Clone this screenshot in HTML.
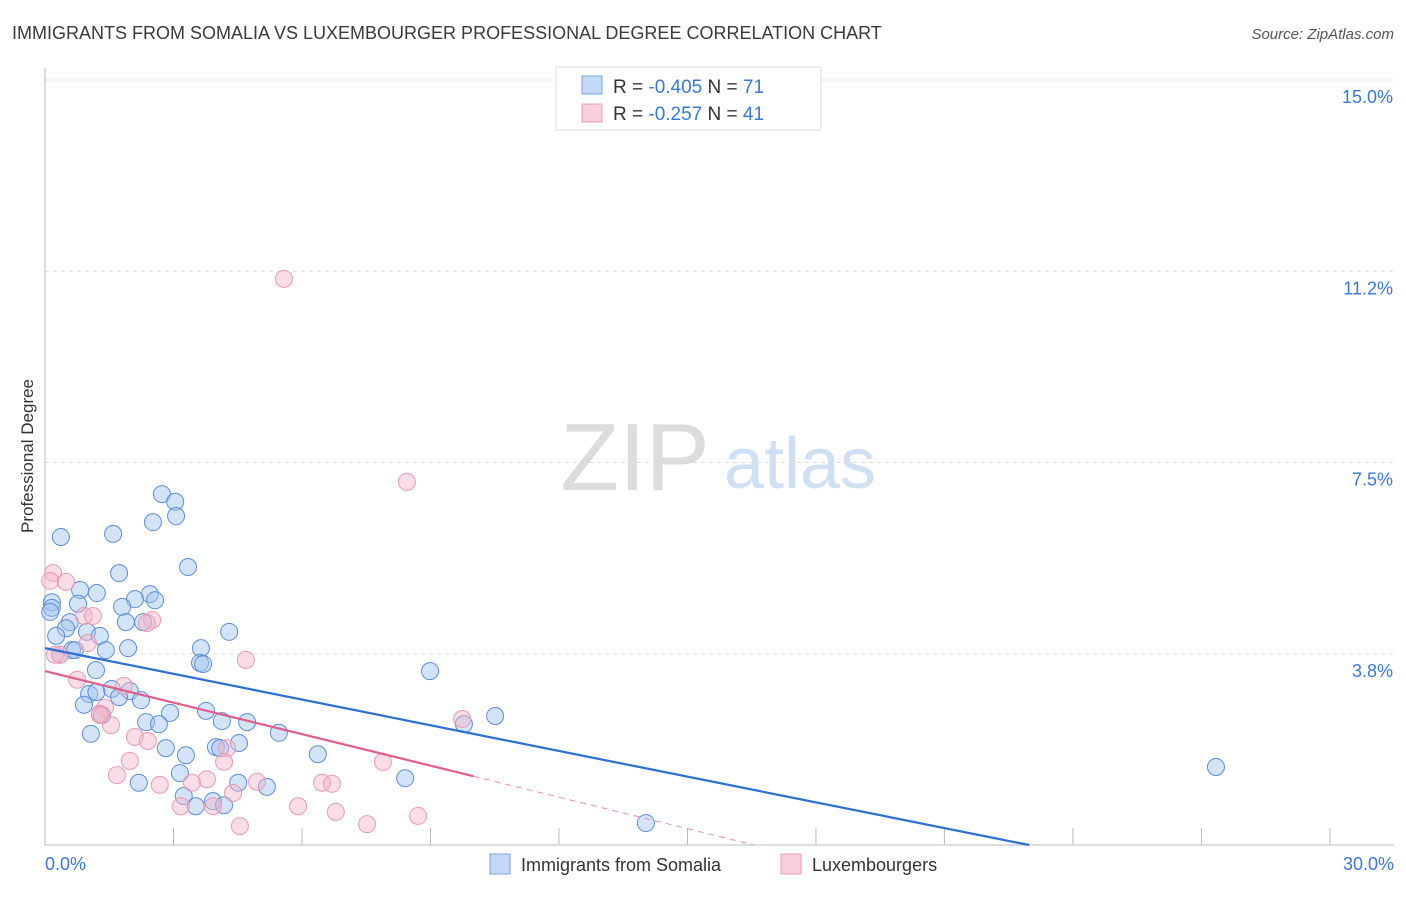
<!DOCTYPE html>
<html><head><meta charset="utf-8"><style>
body{margin:0;background:#fff;font-family:"Liberation Sans",sans-serif;}
svg text{font-family:"Liberation Sans",sans-serif;}
</style></head><body>
<svg id="chart" width="1406" height="892" viewBox="0 0 1406 892" xmlns="http://www.w3.org/2000/svg">
<text x="12" y="39" font-size="18" fill="#3a3a3a">IMMIGRANTS FROM SOMALIA VS LUXEMBOURGER PROFESSIONAL DEGREE CORRELATION CHART</text>
<text x="1394" y="39" font-size="15" fill="#555" font-style="italic" text-anchor="end">Source: ZipAtlas.com</text>
<g>
<text x="635" y="490" font-size="96" fill="#dcdcdc" text-anchor="middle" font-family="Liberation Serif">ZIP</text>
<text x="800" y="488" font-size="72" fill="#cfe0f5" text-anchor="middle">atlas</text>
</g>
<g id="grid"></g>
<g id="axes"></g>
<text transform="translate(33,456) rotate(-90)" font-size="17" fill="#333" text-anchor="middle">Professional Degree</text>
<g id="marks"></g>
<g>
<rect x="556" y="67" width="265" height="63" fill="#fff" stroke="#ddd"/>
<rect x="582" y="76" width="20" height="18" fill="#c4d9f5" stroke="#7aa6e0"/>
<rect x="582" y="104" width="20" height="18" fill="#f9cfdc" stroke="#ec9bb4"/>
<text x="613" y="93" font-size="19" fill="#333">R = <tspan fill="#3a78d8">-0.405</tspan>   N = <tspan fill="#3a78d8">71</tspan></text>
<text x="613" y="120" font-size="19" fill="#333">R =  <tspan fill="#3a78d8">-0.257</tspan>   N = <tspan fill="#3a78d8">41</tspan></text>
</g>
<g>
<rect x="490" y="854" width="20" height="20" fill="#c4d9f5" stroke="#7aa6e0"/>
<text x="521" y="871" font-size="18" fill="#333">Immigrants from Somalia</text>
<rect x="781" y="854" width="20" height="20" fill="#f9cfdc" stroke="#ec9bb4"/>
<text x="812" y="871" font-size="18" fill="#333">Luxembourgers</text>
</g>
</svg>
<script>
const yTicks=[3.75,7.5,11.25,15];
const yTickLabels=["3.8%","7.5%","11.2%","15.0%"];
const xTickVals=[0,3,6,9,12,15,18,21,24,27,30];
const xEndLabels=["0.0%","30.0%"];
const somaliaX=[0.37,1.59,2.73,3.04,3.06,2.52,3.34,1.73,0.82,1.21,2.45,2.57,2.10,1.80,0.77,0.16,0.16,0.12,0.58,1.89,2.29,0.49,0.26,0.98,1.28,0.63,0.70,0.35,1.42,1.94,4.30,3.64,3.62,3.69,1.19,8.99,1.56,1.98,1.03,1.73,2.24,0.91,1.33,2.92,3.76,4.13,4.72,2.36,2.66,1.07,5.46,4.53,3.99,4.09,2.82,6.37,3.29,3.15,2.19,4.51,5.18,8.41,3.24,3.52,3.92,4.18,9.78,10.51,27.34,14.03,1.2];
const somaliaY=[6.04,6.10,6.88,6.73,6.45,6.33,5.45,5.33,5.00,4.94,4.92,4.80,4.82,4.67,4.73,4.76,4.65,4.57,4.37,4.37,4.37,4.25,4.10,4.18,4.10,3.82,3.82,3.73,3.82,3.86,4.18,3.86,3.57,3.55,3.43,3.41,3.06,3.02,2.96,2.90,2.84,2.75,2.55,2.59,2.63,2.43,2.41,2.41,2.37,2.18,2.20,2.00,1.92,1.90,1.90,1.78,1.76,1.41,1.22,1.22,1.14,1.31,0.96,0.76,0.86,0.78,2.37,2.53,1.53,0.43,3.0];
const luxX=[5.58,8.45,0.19,0.12,0.49,0.91,1.12,2.50,2.38,1.00,0.35,4.69,0.75,1.84,1.40,1.28,1.54,2.10,2.40,1.98,1.68,2.68,3.78,3.43,3.92,3.17,4.39,4.25,4.18,4.95,5.91,6.47,6.70,6.79,7.89,8.71,7.52,4.55,9.74,0.23,1.28];
const luxY=[11.10,7.12,5.33,5.18,5.16,4.49,4.49,4.41,4.35,3.96,3.73,3.63,3.24,3.12,2.69,2.57,2.35,2.12,2.04,1.65,1.37,1.18,1.29,1.22,0.76,0.76,1.02,1.90,1.63,1.24,0.76,1.22,1.20,0.65,1.63,0.57,0.41,0.37,2.47,3.73,2.55];
const somaliaTrend=[3.86,-0.168];
const luxTrend=[3.41,-0.206];
const luxSolidEnd=10;
const X=v=>45+v*42.83, Y=v=>845-v*51.0;
const NS="http://www.w3.org/2000/svg";
function mk(t,a,p){const e=document.createElementNS(NS,t);for(const k in a)e.setAttribute(k,a[k]);p.appendChild(e);return e;}
const grid=document.getElementById('grid'),axes=document.getElementById('axes'),marks=document.getElementById('marks');
yTicks.forEach((v,i)=>{
 const l=mk('line',{x1:45,x2:1394,y1:Y(v),y2:Y(v),stroke:'#ddd','stroke-dasharray':'4,4'},grid);
 
 
 const t=mk('text',{x:1393,y:Y(v)+23,'font-size':18,fill:'#3a78d8','text-anchor':'end'},axes);
 t.textContent=yTickLabels[i];
 
 
});
const ya=mk('line',{x1:45,x2:45,y1:68,y2:845,stroke:'#bbb'},axes);


const xa=mk('line',{x1:45,x2:1394,y1:845,y2:845,stroke:'#bbb'},axes);


xTickVals.forEach(v=>{
 const l=mk('line',{x1:X(v),x2:X(v),y1:828,y2:845,stroke:'#bbb'},axes);
 
 
});
const xl0=mk('text',{x:45,y:870,'font-size':18,fill:'#3a78d8'},axes);
xl0.textContent=xEndLabels[0];


const xl1=mk('text',{x:1394,y:870,'font-size':18,fill:'#3a78d8','text-anchor':'end'},axes);
xl1.textContent=xEndLabels[1];


somaliaX.forEach((x,i)=>{
 const c=mk('circle',{cx:X(x),cy:Y(somaliaY[i]),r:8.5,fill:'rgba(160,195,240,0.45)',stroke:'#5b8fdc','stroke-width':1},marks);
 
 
});
luxX.forEach((x,i)=>{
 const c=mk('circle',{cx:X(x),cy:Y(luxY[i]),r:8.5,fill:'rgba(245,180,200,0.45)',stroke:'#eb9ab3','stroke-width':1},marks);
 
 
});
const sEnd=-somaliaTrend[0]/somaliaTrend[1];
const bl=mk('line',{x1:X(0),y1:Y(somaliaTrend[0]),x2:X(sEnd),y2:Y(0),stroke:'#2b6fd6','stroke-width':2.2},marks);


const pl=mk('line',{x1:X(0),y1:Y(luxTrend[0]),x2:X(luxSolidEnd),y2:Y(luxTrend[0]+luxTrend[1]*luxSolidEnd),stroke:'#e35d8a','stroke-width':2.2},marks);


const lEnd=-luxTrend[0]/luxTrend[1];
const pd=mk('line',{x1:X(luxSolidEnd),y1:Y(luxTrend[0]+luxTrend[1]*luxSolidEnd),x2:X(lEnd),y2:Y(0),stroke:'#e991ad','stroke-width':1,'stroke-dasharray':'6,5'},marks);


</script>
</body></html>
